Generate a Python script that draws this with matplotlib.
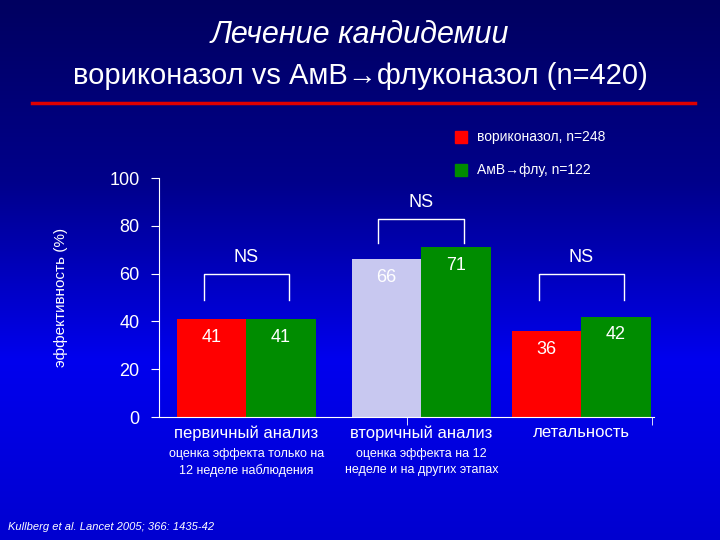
import matplotlib
matplotlib.use("Agg")
import matplotlib.pyplot as plt
import numpy as np
from matplotlib.colors import LinearSegmentedColormap

plt.rcParams['font.family'] = ['Liberation Sans', 'DejaVu Sans']

categories = ["первичный анализ", "вторичный анализ", "летальность"]
subnotes = ["оценка эффекта только на\n12 неделе наблюдения", "оценка эффекта на 12\nнеделе и на других этапах", ""]
vori = [41, 66, 36]
amb = [41, 71, 42]
series_names = ["вориконазол, n=248", "АмВ→флу, n=122"]

fig = plt.figure(figsize=(7.2, 5.4), dpi=100)
bg = fig.add_axes([0, 0, 1, 1])
grad = np.linspace(0, 1, 256).reshape(-1, 1)
cmap = LinearSegmentedColormap.from_list("bg", ["#0000d0", "#0000ee", "#00008a", "#000060"])
bg.imshow(grad, aspect="auto", cmap=cmap, extent=[0, 1, 0, 1], origin="lower")
bg.axis("off")
bg.plot([0.045, 0.965], [1 - 103/540]*2, color="#e00000", lw=2.5)

fig.text(0.5, 1 - 35/540, "Лечение кандидемии", color="white", fontsize=22, style="italic", ha="center", va="center")
fig.text(0.5, 1 - 76/540, "вориконазол vs АмВ→флуконазол (n=420)", color="white", fontsize=21, ha="center", va="center")

ax = fig.add_axes([159/720, 1 - 417/540, (654-159)/720, (417-178)/540])
ax.set_facecolor("none")
centers = [0.03, 1.09, 2.06]
w = 0.42
cols1 = ["#ff0000", "#c8c8f0", "#ff0000"]
for i, c in enumerate(centers):
    ax.bar(c - w/2, vori[i], w, color=cols1[i])
    ax.bar(c + w/2, amb[i], w, color="#008c00")
    ax.text(c - w/2, vori[i] - 4, str(vori[i]), color="white", ha="center", va="top", fontsize=13)
    ax.text(c + w/2, amb[i] - 4, str(amb[i]), color="white", ha="center", va="top", fontsize=13)
    h = 60 if i != 1 else 83
    lo = 49 if i != 1 else 73
    ax.plot([c - w/2 - 0.05, c - w/2 - 0.05, c + w/2 + 0.05, c + w/2 + 0.05], [lo, h, h, lo], color="white", lw=1)
    ax.text(c, h + 3, "NS", color="white", ha="center", va="bottom", fontsize=13)

ax.set_xlim(-0.5, 2.5)
ax.set_ylim(0, 100)
ax.set_yticks(range(0, 101, 20))
ax.tick_params(axis="y", colors="white", labelsize=13, length=6, direction="out", pad=8)
ax.set_xticks(centers)
ax.set_xticklabels(categories)
ax.set_xticks([1.0, 2.49], minor=True)
ax.tick_params(axis="x", which="major", length=0, colors="white", labelsize=12, pad=6)
ax.tick_params(axis="x", which="minor", length=6, color="white")
for s in ["top", "right"]:
    ax.spines[s].set_visible(False)
for s in ["left", "bottom"]:
    ax.spines[s].set_color("white")
for i, c in enumerate(centers):
    if subnotes[i]:
        ax.text(c, -13, subnotes[i], color="white", ha="center", va="top", fontsize=9, linespacing=1.4)
ax.set_ylabel("эффективность (%)", color="white", fontsize=11, labelpad=30)

for j, (name, col) in enumerate(zip(series_names, ["#ff0000", "#008c00"])):
    y = 1 - (137 + j*33)/540
    fig.patches.append(plt.Rectangle((455/720, y - 0.012), 12/720, 0.024, color=col, transform=fig.transFigure))
    fig.text(477/720, y, name, color="white", fontsize=10, va="center")

fig.text(8/720, 1 - 527/540, "Kullberg et al. Lancet 2005; 366: 1435-42", color="white", fontsize=8, style="italic", va="center")
fig.savefig("out.png", dpi=100)
